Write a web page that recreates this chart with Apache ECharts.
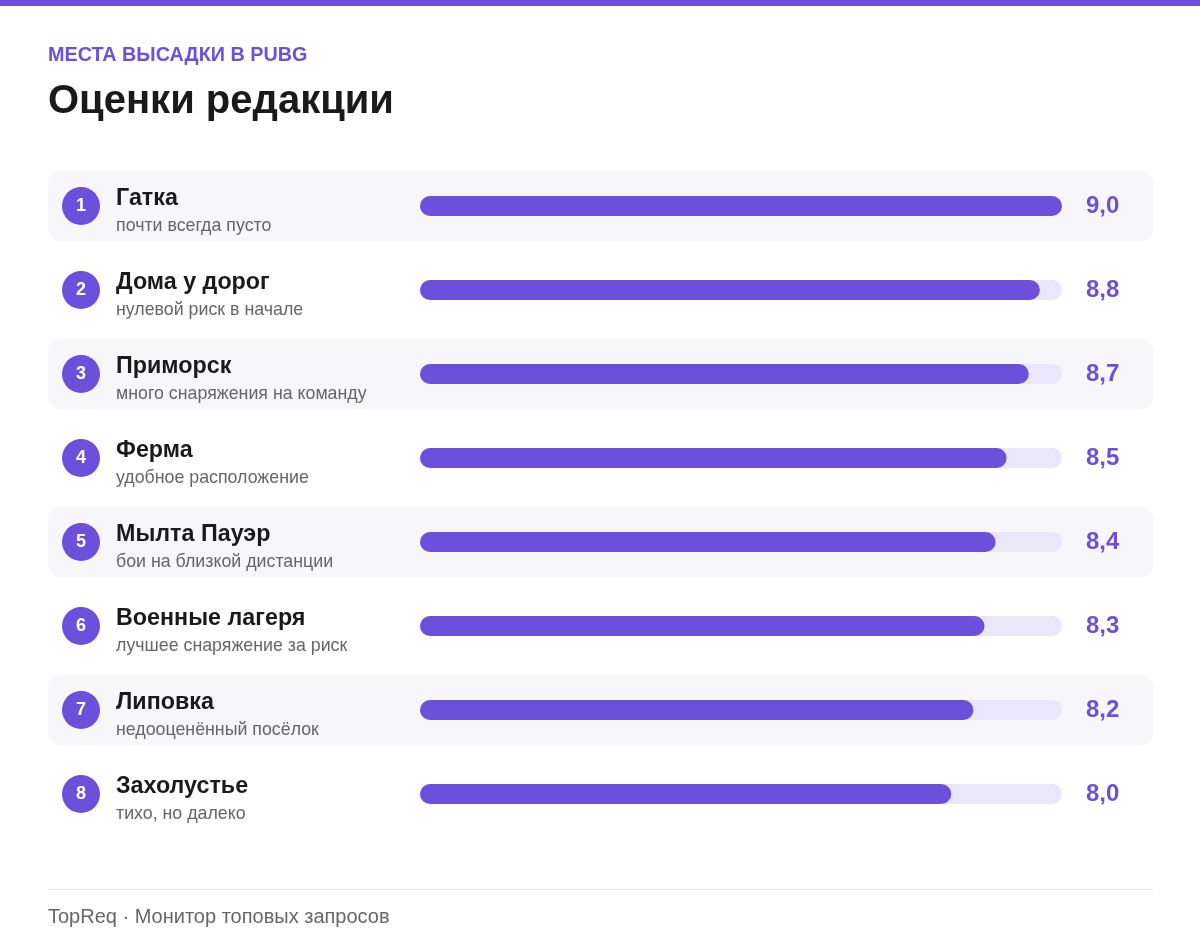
<!DOCTYPE html>
<html><head><meta charset="utf-8">
<script src="https://cdn.jsdelivr.net/npm/echarts@6/dist/echarts.min.js"></script>
<style>html,body{margin:0;padding:0;background:#fff}#c{width:1200px;height:952px}</style>
</head><body><div id="c"></div>
<script>
const names=["Гатка","Дома у дорог","Приморск","Ферма","Мылта Пауэр","Военные лагеря","Липовка","Захолустье"];
const notes=["почти всегда пусто","нулевой риск в начале","много снаряжения на команду","удобное расположение","бои на близкой дистанции","лучшее снаряжение за риск","недооценённый посёлок","тихо, но далеко"];
const scores=[9.0,8.8,8.7,8.5,8.4,8.3,8.2,8.0];
const ranks=["1","2","3","4","5","6","7","8"];
const maxScore=9.0, minScore=3.2;
const F='"Liberation Sans", Arial, sans-serif';
const PURPLE='#6c4fdb';
const chart=echarts.init(document.getElementById('c'));
chart.setOption({
  animation:false,
  textStyle:{fontFamily:F},
  graphic:[
    {type:'rect',shape:{x:0,y:0,width:1200,height:6},style:{fill:PURPLE}},
    {type:'text',left:48,top:46,style:{text:'МЕСТА ВЫСАДКИ В PUBG',fill:PURPLE,font:'bold 19.8px '+F}},
    {type:'text',left:48,top:82,style:{text:'Оценки редакции',fill:'#1a1a1a',font:'bold 40px '+F}},
    {type:'rect',shape:{x:48,y:889,width:1105,height:1},style:{fill:'#e4e4ea'}},
    {type:'text',left:48,top:907,style:{text:'TopReq · Монитор топовых запросов',fill:'#666',font:'20px '+F}}
  ],
  grid:[
    {left:48,width:1105,top:164,height:672},
    {left:420,width:642,top:164,height:672}
  ],
  xAxis:[
    {gridIndex:0,type:'value',min:0,max:1105,show:false},
    {gridIndex:1,type:'value',min:minScore,max:maxScore,show:false}
  ],
  yAxis:[
    {gridIndex:0,type:'category',data:names,inverse:true,show:false},
    {gridIndex:1,type:'category',data:names,inverse:true,show:false}
  ],
  series:[
    {type:'bar',xAxisIndex:0,yAxisIndex:0,barWidth:70,silent:true,
     data:names.map((n,i)=>({value:1105,itemStyle:{color:i%2===0?'#f7f7fa':'rgba(0,0,0,0)',borderRadius:12}})),
     label:{show:true,position:'insideLeft',distance:68,offset:[0,6],
       formatter:p=>'{n|'+names[p.dataIndex]+'}\n{s|'+notes[p.dataIndex]+'}',
       rich:{n:{fontSize:23.3,fontWeight:'bold',color:'#1a1a1a',fontFamily:F,lineHeight:28},
             s:{fontSize:17.8,color:'#666',fontFamily:F,lineHeight:26}}}},
    {type:'scatter',xAxisIndex:0,yAxisIndex:0,symbolSize:38,itemStyle:{color:PURPLE,opacity:1},
     data:ranks.map(r=>33),
     label:{show:true,position:'inside',formatter:p=>ranks[p.dataIndex],color:'#fff',fontSize:18,fontWeight:'bold'}},
    {type:'bar',xAxisIndex:1,yAxisIndex:1,barWidth:20,barGap:'-100%',silent:true,
     data:scores.map(()=>maxScore),itemStyle:{color:'#ebe7fb',borderRadius:10},
     label:{show:true,position:'right',distance:24,formatter:p=>scores[p.dataIndex].toFixed(1).replace('.',','),
       color:PURPLE,fontSize:24,fontWeight:'bold'}},
    {type:'bar',xAxisIndex:1,yAxisIndex:1,barWidth:20,barGap:'-100%',
     data:scores,itemStyle:{color:PURPLE,borderRadius:10}}
  ]
});
</script></body></html>
